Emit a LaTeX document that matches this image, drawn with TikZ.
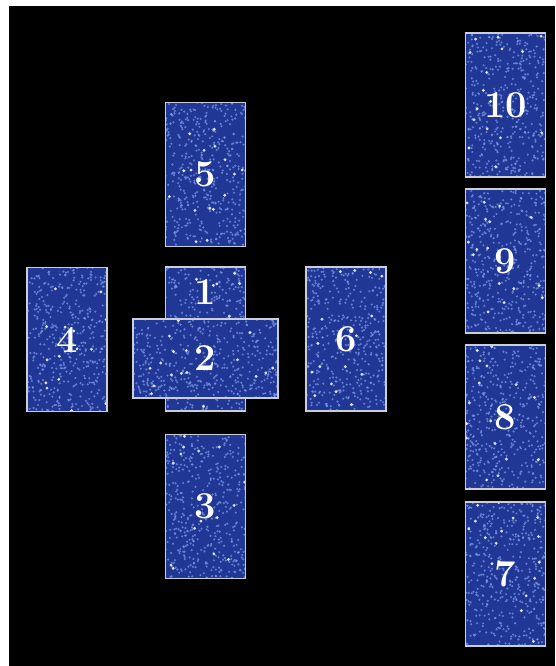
\documentclass[tikz,border=0pt]{standalone}
\usepackage{xcolor}
\usepackage{tikz}
\usetikzlibrary{positioning}

\definecolor{cardblue}{RGB}{32,55,150}
\definecolor{speck}{RGB}{125,155,230}
\definecolor{cardedge}{RGB}{205,205,215}
\pgfmathsetseed{17}

\begin{document}
\begin{tikzpicture}[
  x=1pt, y=-1pt,
  card/.style 2 args={rectangle, draw=cardedge, line width=1.2pt, fill=cardblue,
    minimum width=#1pt, minimum height=#2pt, inner sep=0pt, text=white,
    font=\fontsize{38}{38}\selectfont\bfseries,
    path picture={
      \foreach \i in {1,...,420}
        \fill[speck, opacity=.7] ([shift={({rnd*#1*1pt},{rnd*#2*1pt})}]path picture bounding box.south west) circle[radius=1.2pt];
      \foreach \i in {1,...,16}
        \fill[white, opacity=.85] ([shift={({rnd*#1*1pt},{rnd*#2*1pt})}]path picture bounding box.south west) circle[radius=1.6pt];
    }},
  vcard/.style={card={80}{144}},
  hcard/.style={card={145}{79}},
  num/.style={text=white, inner sep=0pt, font=\fontsize{38}{38}\selectfont\bfseries}
]

% page and table
\fill[white] (0,0) rectangle (555,666);
\fill[black] (9,6) rectangle (555,666);

% the cross
\node (c5) [vcard] at (205.5,174.5) {5};
\node (c1) [vcard] at (205.5,339) {};
\node (n1) [num] at ([yshift=-26pt]c1.north) {1};
\node (c2) [hcard] at (205.5,358.5) {2};
\node (c4) [vcard] at (67,339.5) {4};
\node (c6) [vcard] at (346,339) {6};
\node (c3) [vcard] at (205.5,506.5) {3};

% the staff
\node (c10) [vcard] at (505.5,105) {10};
\node (c9) [vcard] at (505.5,261) {9};
\node (c8) [vcard] at (505.5,417) {8};
\node (c7) [vcard] at (505.5,574) {7};
\end{tikzpicture}
\end{document}
